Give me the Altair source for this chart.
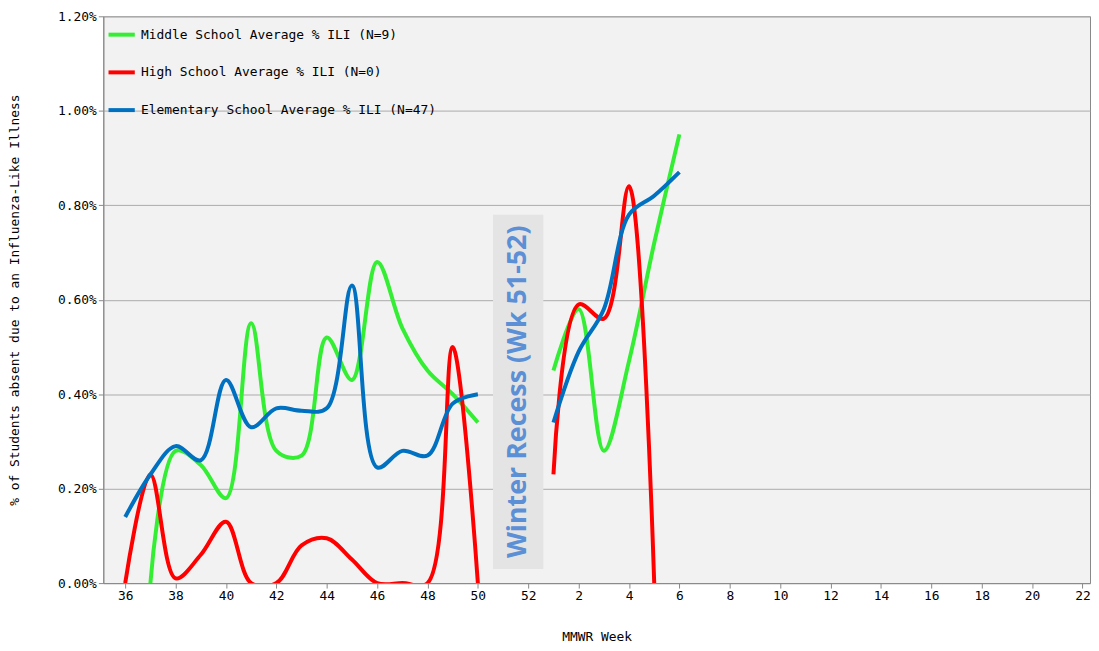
import altair as alt
import pandas as pd

# week index 0..38 maps to MMWR weeks 36..52, 1..22
middle_a = [None, 0.0, 0.28, 0.25, 0.18, 0.55, 0.28, 0.27, 0.52, 0.43, 0.68, 0.54, 0.45, 0.40, 0.34]
middle_b = [0.45, 0.58, 0.28, 0.47, 0.72, 0.95]
high_a = [0.0, 0.23, 0.01, 0.06, 0.13, 0.0, 0.0, 0.08, 0.095, 0.05, 0.0, 0.0, 0.0, 0.50, 0.0]
high_b = [0.23, 0.59, 0.56, 0.84, 0.0]
elem_a = [0.14, 0.23, 0.29, 0.26, 0.43, 0.33, 0.37, 0.365, 0.37, 0.63, 0.245, 0.28, 0.27, 0.38, 0.40]
elem_b = [0.34, 0.49, 0.58, 0.78, 0.82, 0.87]

series = [
    ("Middle School Average % ILI (N=9)", middle_a, middle_b),
    ("High School Average % ILI (N=0)", high_a, high_b),
    ("Elementary School Average % ILI (N=47)", elem_a, elem_b),
]
names = [s[0] for s in series]
colors = ["#33ee33", "#ff0000", "#0070c0"]

rows = []
for name, a, b in series:
    for i, v in enumerate(a):
        if v is not None:
            rows.append({"series": name, "seg": name + "a", "idx": i, "val": v})
    for i, v in enumerate(b):
        rows.append({"series": name, "seg": name + "b", "idx": 17 + i, "val": v})
df = pd.DataFrame(rows)

font = "DejaVu Sans Mono"
x = alt.X("idx:Q", scale=alt.Scale(domain=[-0.87, 38.3], nice=False, zero=False),
          axis=alt.Axis(values=list(range(0, 39, 2)), grid=False, title="MMWR Week",
                        labelExpr="datum.value < 17 ? datum.value + 36 : datum.value - 16",
                        labelFont=font, titleFont=font, labelFontSize=13, titleFontSize=13,
                        titleFontWeight="normal", labelColor="black", titleColor="black",
                        domainColor="#888", tickColor="#888", titlePadding=28))
y = alt.Y("val:Q", scale=alt.Scale(domain=[0, 1.2], nice=False),
          axis=alt.Axis(values=[0, 0.2, 0.4, 0.6, 0.8, 1.0, 1.2],
                        labelExpr="format(datum.value/100, '.2%')",
                        title="% of Students absent due to an Influenza-Like Illness",
                        labelFont=font, titleFont=font, labelFontSize=13, titleFontSize=13,
                        titleFontWeight="normal", labelColor="black", titleColor="black",
                        gridColor="#aaaaaa", domainColor="#888", tickColor="#888", titlePadding=36))

lines = alt.Chart(df).mark_line(interpolate="catmull-rom", strokeWidth=4, clip=True).encode(
    x=x, y=y,
    color=alt.Color("series:N", scale=alt.Scale(domain=names, range=colors), sort=names,
                    legend=alt.Legend(orient="top-left", title=None, symbolType="stroke",
                                      symbolStrokeWidth=4, symbolSize=700, labelFont=font,
                                      labelFontSize=13, labelLimit=500, rowPadding=14,
                                      offset=3)),
    detail="seg:N",
)

box = pd.DataFrame({"x1": [14.6], "x2": [16.6], "y1": [0.03], "y2": [0.78]})
rect = alt.Chart(box).mark_rect(color="#e4e4e4").encode(x="x1:Q", x2="x2", y="y1:Q", y2="y2")
label = alt.Chart(pd.DataFrame({"x": [15.6], "y": [0.405], "t": ["Winter Recess (Wk 51-52)"]})).mark_text(
    angle=270, font="Open Sans", fontWeight="bold", fontSize=27, color="#5b8fd6"
).encode(x="x:Q", y="y:Q", text="t:N")

chart = (rect + label + lines).properties(
    width=994, height=571, background="white",
    padding={"left": 0, "top": 0, "right": 0, "bottom": 0},
).configure_view(fill="#f2f2f2", stroke="#888")
chart.save("out.html", embed_options={"renderer": "svg", "actions": False})
